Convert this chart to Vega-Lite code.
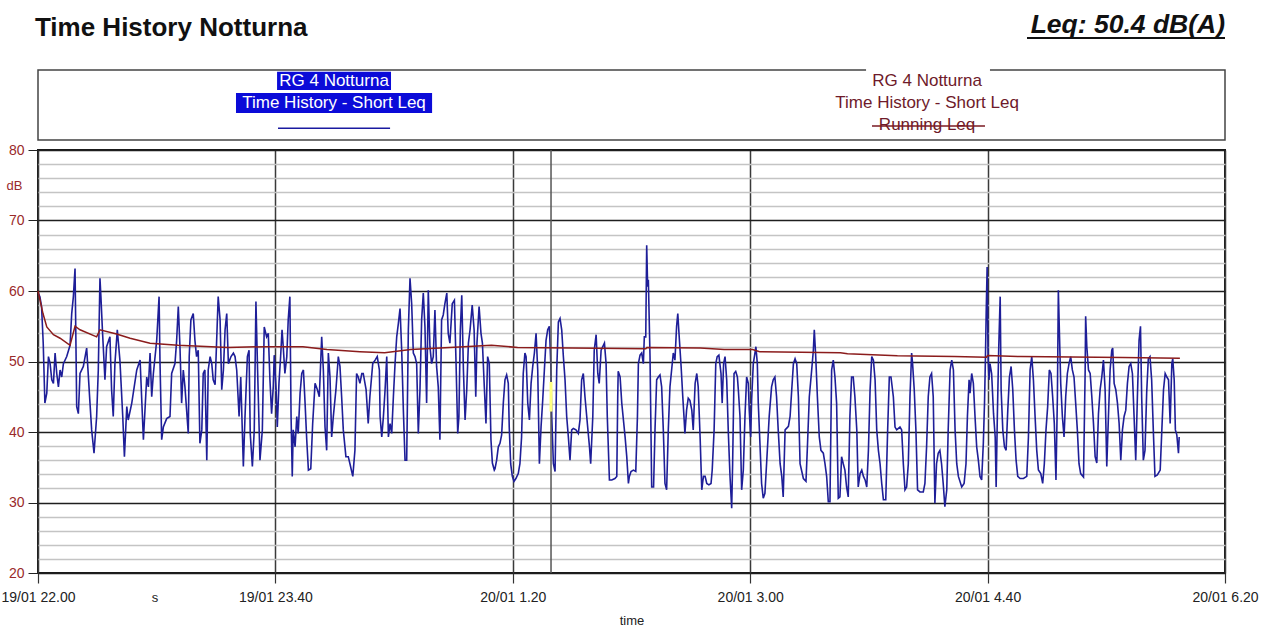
{
  "$schema": "https://vega.github.io/schema/vega-lite/v6.json",
  "width": 1187,
  "height": 423,
  "autosize": {"type": "none"},
  "padding": {"left": 38, "top": 150, "right": 47, "bottom": 58},
  "background": "white",
  "config": {
    "view": {"stroke": "#1a1a1a", "strokeWidth": 2},
    "font": "Liberation Sans"
  },
  "datasets": {
    "one": [{}],
    "short": [
      {"t":0.1,"v":59.7},{"t":0.8,"v":59.2},{"t":1.5,"v":57.8},{"t":2.2,"v":52.6},{"t":2.9,"v":44.1},{"t":3.7,"v":45.5},{"t":4.4,"v":50.7},{"t":5.1,"v":49.7},{"t":5.8,"v":47.4},{"t":6.5,"v":46.9},{"t":7.2,"v":51.2},{"t":7.9,"v":48.3},{"t":8.6,"v":46.4},{"t":9.3,"v":48.8},{"t":10.0,"v":47.8},{"t":10.7,"v":49.7},{"t":12.1,"v":50.7},{"t":13.5,"v":52.3},{"t":14.2,"v":56.8},{"t":14.9,"v":59.2},{"t":15.6,"v":63.2},{"t":16.3,"v":43.6},{"t":17.0,"v":42.6},{"t":17.7,"v":48.3},{"t":19.1,"v":49.3},{"t":20.5,"v":51.9},{"t":21.9,"v":44.1},{"t":22.6,"v":40.3},{"t":23.6,"v":37.0},{"t":24.7,"v":42.2},{"t":25.4,"v":48.8},{"t":26.1,"v":61.8},{"t":26.5,"v":59.2},{"t":27.2,"v":54.0},{"t":28.2,"v":47.4},{"t":28.9,"v":52.1},{"t":30.3,"v":53.5},{"t":31.0,"v":46.0},{"t":31.7,"v":42.2},{"t":32.4,"v":49.7},{"t":33.4,"v":54.5},{"t":34.5,"v":50.2},{"t":35.7,"v":42.2},{"t":36.4,"v":36.5},{"t":37.4,"v":43.6},{"t":38.0,"v":41.7},{"t":39.5,"v":44.1},{"t":41.6,"v":48.8},{"t":43.0,"v":50.2},{"t":44.4,"v":38.9},{"t":45.8,"v":47.8},
      {"t":46.5,"v":46.4},{"t":47.2,"v":51.2},{"t":47.9,"v":45.0},{"t":48.6,"v":48.3},{"t":50.0,"v":53.0},{"t":51.0,"v":59.2},{"t":51.4,"v":49.7},{"t":52.1,"v":38.9},{"t":52.8,"v":40.7},{"t":54.2,"v":41.9},{"t":55.6,"v":42.2},{"t":56.3,"v":48.3},{"t":57.7,"v":49.7},{"t":58.4,"v":53.0},{"t":59.1,"v":57.8},{"t":59.8,"v":52.1},{"t":60.5,"v":44.1},{"t":61.2,"v":48.8},{"t":61.9,"v":46.4},{"t":63.3,"v":39.8},{"t":63.7,"v":50.7},{"t":64.4,"v":55.9},{"t":65.4,"v":56.8},{"t":66.1,"v":53.0},{"t":66.8,"v":50.7},{"t":67.5,"v":51.6},{"t":68.2,"v":38.4},{"t":69.0,"v":40.3},{"t":69.6,"v":48.3},{"t":70.3,"v":48.8},{"t":71.1,"v":36.0},{"t":71.7,"v":48.8},{"t":72.5,"v":50.7},{"t":73.2,"v":49.7},{"t":73.8,"v":47.4},{"t":74.6,"v":46.7},{"t":75.9,"v":59.2},{"t":76.7,"v":55.9},{"t":77.4,"v":46.0},{"t":78.1,"v":48.8},{"t":78.8,"v":54.5},{"t":79.5,"v":56.8},{"t":80.2,"v":49.7},{"t":81.3,"v":50.7},{"t":82.3,"v":51.2},{"t":83.0,"v":50.7},{"t":83.7,"v":48.8},{"t":84.7,"v":42.2},{"t":85.4,"v":47.8},{"t":86.5,"v":35.1},{"t":87.2,"v":42.2},{"t":88.2,"v":50.7},{"t":88.9,"v":51.6},{"t":89.4,"v":39.8},{"t":90.3,"v":35.1},{"t":91.1,"v":40.3},{"t":91.8,"v":58.5},{"t":92.5,"v":48.8},{"t":93.5,"v":36.0},{"t":94.5,"v":40.3},{"t":95.3,"v":54.9},
      {"t":96.3,"v":53.5},{"t":97.0,"v":54.0},{"t":97.7,"v":47.4},{"t":98.4,"v":42.6},{"t":99.1,"v":46.4},{"t":99.5,"v":50.9},{"t":100.3,"v":46.0},{"t":100.8,"v":40.7},{"t":101.5,"v":46.9},{"t":102.2,"v":50.7},{"t":102.8,"v":54.5},{"t":103.3,"v":52.1},{"t":104.0,"v":48.3},{"t":104.8,"v":50.7},{"t":105.4,"v":55.9},{"t":106.1,"v":59.2},{"t":106.6,"v":42.2},{"t":107.1,"v":33.7},{"t":107.5,"v":40.3},{"t":108.3,"v":37.9},{"t":109.0,"v":42.2},{"t":109.6,"v":39.8},{"t":110.4,"v":45.5},{"t":111.1,"v":48.3},{"t":111.8,"v":48.8},{"t":112.5,"v":44.1},{"t":113.2,"v":38.9},{"t":113.9,"v":34.6},{"t":114.9,"v":34.8},{"t":115.7,"v":41.2},{"t":116.7,"v":46.9},{"t":117.7,"v":46.0},{"t":118.5,"v":45.0},{"t":119.5,"v":53.5},{"t":120.2,"v":48.8},{"t":120.9,"v":40.7},{"t":121.6,"v":37.4},{"t":122.3,"v":51.2},{"t":123.0,"v":47.8},{"t":123.7,"v":39.3},{"t":124.4,"v":42.2},{"t":125.5,"v":46.0},{"t":126.5,"v":50.7},{"t":127.2,"v":49.3},{"t":127.9,"v":45.0},{"t":128.6,"v":40.3},{"t":129.7,"v":36.5},{"t":130.7,"v":36.5},{"t":131.4,"v":35.5},{"t":132.6,"v":33.7},{"t":133.5,"v":37.4},{"t":134.2,"v":48.3},{"t":134.9,"v":47.8},{"t":135.6,"v":46.9},{"t":136.4,"v":48.3},{"t":137.0,"v":48.3},{"t":138.2,"v":46.0},{"t":139.1,"v":41.2},{"t":139.8,"v":45.0},{"t":141.0,"v":49.7},{"t":142.0,"v":50.2},{"t":142.9,"v":50.7},{"t":143.8,"v":48.8},
      {"t":144.1,"v":42.2},{"t":144.8,"v":39.3},{"t":145.5,"v":42.2},{"t":146.2,"v":46.0},{"t":146.9,"v":50.7},{"t":147.6,"v":39.3},{"t":148.3,"v":41.2},{"t":149.0,"v":39.8},{"t":149.7,"v":45.0},{"t":150.4,"v":49.7},{"t":151.1,"v":53.5},{"t":151.8,"v":55.4},{"t":152.5,"v":57.5},{"t":153.2,"v":51.6},{"t":153.9,"v":43.1},{"t":154.6,"v":36.0},{"t":155.3,"v":36.0},{"t":156.0,"v":54.5},{"t":156.7,"v":61.8},{"t":157.4,"v":58.2},{"t":158.1,"v":51.2},{"t":158.8,"v":50.7},{"t":159.5,"v":49.7},{"t":160.2,"v":39.8},{"t":160.9,"v":46.0},{"t":161.6,"v":55.9},{"t":162.3,"v":59.7},{"t":163.0,"v":54.9},{"t":163.7,"v":44.1},{"t":164.4,"v":60.1},{"t":165.1,"v":52.1},{"t":165.8,"v":49.7},{"t":166.5,"v":50.7},{"t":167.2,"v":57.3},{"t":167.9,"v":49.3},{"t":168.6,"v":46.4},{"t":169.3,"v":38.9},{"t":170.0,"v":55.9},{"t":170.7,"v":56.6},{"t":171.4,"v":58.2},{"t":172.2,"v":59.7},{"t":172.8,"v":54.0},{"t":173.5,"v":52.6},{"t":174.5,"v":58.2},{"t":175.4,"v":58.7},{"t":176.1,"v":49.7},{"t":176.8,"v":39.8},{"t":177.3,"v":42.2},{"t":177.9,"v":54.5},{"t":178.5,"v":59.4},{"t":179.2,"v":48.8},{"t":179.9,"v":41.7},{"t":180.6,"v":46.0},{"t":181.3,"v":52.6},{"t":182.0,"v":54.5},{"t":182.9,"v":58.0},{"t":183.7,"v":54.5},{"t":184.4,"v":45.0},{"t":184.9,"v":52.6},{"t":185.8,"v":57.8},{"t":186.6,"v":54.0},{"t":187.2,"v":52.6},{"t":188.0,"v":46.4},{"t":188.7,"v":41.2},{"t":189.4,"v":50.7},{"t":190.1,"v":49.7},{"t":190.8,"v":38.9},{"t":191.4,"v":35.6},{"t":192.2,"v":34.6},
      {"t":192.5,"v":34.8},{"t":193.2,"v":36.0},{"t":193.9,"v":37.9},{"t":194.6,"v":38.4},{"t":195.3,"v":39.6},{"t":196.0,"v":44.1},{"t":196.7,"v":47.4},{"t":197.4,"v":48.1},{"t":198.1,"v":46.9},{"t":198.5,"v":40.7},{"t":199.1,"v":35.5},{"t":199.8,"v":33.7},{"t":200.5,"v":33.0},{"t":201.3,"v":33.4},{"t":202.3,"v":34.1},{"t":203.0,"v":35.5},{"t":203.7,"v":39.3},{"t":204.4,"v":48.3},{"t":205.1,"v":51.2},{"t":205.6,"v":50.7},{"t":206.3,"v":44.1},{"t":207.0,"v":41.7},{"t":207.7,"v":46.9},{"t":208.4,"v":49.3},{"t":209.1,"v":51.2},{"t":209.8,"v":54.0},{"t":210.5,"v":48.8},{"t":211.2,"v":35.5},{"t":211.9,"v":40.7},{"t":212.6,"v":44.5},{"t":213.3,"v":48.8},{"t":214.0,"v":53.0},{"t":214.7,"v":54.5},{"t":215.4,"v":55.0},{"t":216.0,"v":49.7},{"t":216.4,"v":42.2},{"t":217.1,"v":35.5},{"t":217.8,"v":34.4},{"t":218.5,"v":48.8},{"t":219.2,"v":55.6},{"t":219.9,"v":56.1},{"t":220.6,"v":54.5},{"t":221.3,"v":50.7},{"t":222.0,"v":47.4},{"t":222.7,"v":42.2},{"t":223.4,"v":39.3},{"t":224.1,"v":36.0},{"t":224.8,"v":40.3},{"t":225.5,"v":40.5},{"t":226.6,"v":40.3},{"t":227.6,"v":39.8},{"t":228.3,"v":41.7},{"t":229.0,"v":47.4},{"t":229.7,"v":48.3},{"t":230.4,"v":45.0},{"t":231.4,"v":41.2},{"t":232.3,"v":37.9},{"t":232.8,"v":35.5},{"t":233.7,"v":42.2},{"t":234.3,"v":51.6},{"t":235.1,"v":53.8},{"t":235.8,"v":48.3},{"t":236.4,"v":46.9},{"t":237.2,"v":51.6},{"t":237.9,"v":52.1},{"t":238.6,"v":52.6},{"t":239.3,"v":49.7},{"t":239.8,"v":42.2},{"t":240.7,"v":33.2},
      {"t":241.7,"v":33.2},{"t":243.0,"v":33.4},{"t":243.8,"v":33.7},{"t":244.2,"v":45.0},{"t":244.4,"v":48.6},{"t":245.2,"v":47.8},{"t":245.9,"v":44.1},{"t":246.6,"v":41.7},{"t":247.3,"v":39.3},{"t":248.0,"v":36.5},{"t":248.7,"v":32.7},{"t":249.1,"v":33.7},{"t":249.8,"v":34.4},{"t":250.8,"v":34.6},{"t":251.8,"v":34.4},{"t":252.5,"v":42.2},{"t":252.9,"v":49.7},{"t":253.6,"v":50.9},{"t":254.3,"v":51.2},{"t":255.0,"v":49.7},{"t":255.4,"v":53.5},{"t":256.0,"v":53.5},{"t":256.4,"v":66.5},{"t":256.8,"v":60.6},{"t":257.1,"v":61.6},{"t":257.8,"v":50.7},{"t":258.5,"v":32.2},{"t":259.3,"v":32.2},{"t":259.9,"v":40.3},{"t":260.6,"v":47.4},{"t":261.3,"v":47.8},{"t":262.0,"v":48.1},{"t":262.7,"v":46.4},{"t":263.4,"v":40.3},{"t":264.1,"v":32.7},{"t":264.8,"v":31.8},{"t":265.5,"v":40.3},{"t":266.2,"v":46.4},{"t":266.9,"v":48.8},{"t":267.6,"v":51.2},{"t":268.3,"v":50.2},{"t":269.0,"v":55.0},{"t":269.5,"v":56.8},{"t":270.0,"v":54.0},{"t":270.9,"v":49.3},{"t":271.6,"v":45.0},{"t":272.1,"v":42.2},{"t":272.5,"v":39.8},{"t":273.2,"v":43.1},{"t":273.9,"v":44.8},{"t":274.6,"v":44.5},{"t":275.4,"v":43.1},{"t":276.0,"v":40.3},{"t":276.8,"v":46.9},{"t":277.5,"v":48.3},{"t":278.1,"v":46.4},{"t":278.9,"v":39.3},{"t":279.6,"v":31.8},{"t":280.3,"v":33.7},{"t":281.0,"v":33.7},{"t":281.7,"v":32.7},{"t":282.6,"v":32.5},{"t":283.5,"v":32.7},{"t":284.0,"v":34.6},{"t":284.8,"v":40.3},{"t":285.5,"v":49.7},{"t":286.1,"v":50.7},{"t":286.8,"v":50.9},{"t":287.7,"v":48.3},{"t":288.2,"v":44.1},{"t":288.8,"v":49.7},
      {"t":289.4,"v":50.7},{"t":290.1,"v":47.4},{"t":290.8,"v":39.8},{"t":291.5,"v":33.7},{"t":292.2,"v":29.2},{"t":292.6,"v":35.5},{"t":293.2,"v":48.3},{"t":293.9,"v":48.6},{"t":294.6,"v":47.8},{"t":295.0,"v":46.0},{"t":295.7,"v":42.2},{"t":296.4,"v":31.8},{"t":297.1,"v":34.6},{"t":297.8,"v":42.2},{"t":298.5,"v":47.8},{"t":299.2,"v":46.9},{"t":299.6,"v":43.1},{"t":300.2,"v":39.3},{"t":300.6,"v":44.5},{"t":301.3,"v":49.7},{"t":302.0,"v":51.2},{"t":302.4,"v":52.1},{"t":303.0,"v":49.7},{"t":303.4,"v":44.1},{"t":304.1,"v":38.4},{"t":304.8,"v":32.7},{"t":305.5,"v":30.6},{"t":306.2,"v":31.3},{"t":306.9,"v":35.5},{"t":308.0,"v":42.2},{"t":309.0,"v":46.4},{"t":309.7,"v":47.4},{"t":310.4,"v":47.8},{"t":311.1,"v":45.0},{"t":311.8,"v":40.3},{"t":312.6,"v":35.5},{"t":313.3,"v":33.7},{"t":313.9,"v":30.8},{"t":314.7,"v":40.3},{"t":316.1,"v":40.8},{"t":316.8,"v":42.2},{"t":317.5,"v":46.0},{"t":318.2,"v":49.7},{"t":318.9,"v":50.4},{"t":319.6,"v":49.7},{"t":320.3,"v":45.0},{"t":321.0,"v":35.5},{"t":322.4,"v":33.4},{"t":323.5,"v":33.0},{"t":324.1,"v":37.9},{"t":324.9,"v":45.0},{"t":325.9,"v":48.8},{"t":326.6,"v":51.6},{"t":327.0,"v":54.5},{"t":327.6,"v":50.7},{"t":328.3,"v":45.0},{"t":329.1,"v":39.3},{"t":329.8,"v":37.4},{"t":330.8,"v":37.0},{"t":331.5,"v":35.5},{"t":332.2,"v":33.7},{"t":332.9,"v":30.1},{"t":333.6,"v":30.1},{"t":334.3,"v":48.8},{"t":335.0,"v":50.2},{"t":335.7,"v":47.8},{"t":336.4,"v":44.1},
      {"t":337.1,"v":30.6},{"t":337.8,"v":30.8},{"t":338.5,"v":36.5},{"t":339.2,"v":35.5},{"t":339.9,"v":34.6},{"t":340.6,"v":32.2},{"t":341.3,"v":30.8},{"t":342.0,"v":42.2},{"t":342.7,"v":47.8},{"t":343.4,"v":47.8},{"t":344.1,"v":45.0},{"t":344.9,"v":40.3},{"t":345.5,"v":32.2},{"t":346.3,"v":34.1},{"t":347.0,"v":34.6},{"t":347.7,"v":33.7},{"t":348.4,"v":33.2},{"t":349.1,"v":32.2},{"t":349.8,"v":37.4},{"t":350.5,"v":46.0},{"t":351.2,"v":50.7},{"t":351.9,"v":50.2},{"t":352.6,"v":47.4},{"t":353.3,"v":40.3},{"t":354.0,"v":37.4},{"t":354.7,"v":35.5},{"t":355.4,"v":32.7},{"t":356.1,"v":30.4},{"t":357.1,"v":30.4},{"t":357.9,"v":40.3},{"t":358.6,"v":47.8},{"t":359.3,"v":47.8},{"t":360.3,"v":45.0},{"t":361.0,"v":40.7},{"t":361.7,"v":40.3},{"t":363.1,"v":40.7},{"t":363.8,"v":40.3},{"t":364.5,"v":35.5},{"t":365.2,"v":31.8},{"t":365.9,"v":32.2},{"t":366.6,"v":35.5},{"t":367.3,"v":45.0},{"t":368.0,"v":51.2},{"t":368.4,"v":49.7},{"t":369.1,"v":46.0},{"t":369.8,"v":40.3},{"t":370.5,"v":31.8},{"t":371.5,"v":31.5},{"t":372.9,"v":31.5},{"t":373.6,"v":32.7},{"t":374.3,"v":37.9},{"t":375.0,"v":45.0},{"t":375.7,"v":47.8},{"t":376.4,"v":48.3},{"t":377.1,"v":45.0},{"t":377.8,"v":29.9},{"t":378.5,"v":35.5},{"t":379.2,"v":37.0},{"t":379.9,"v":37.4},{"t":380.6,"v":35.5},{"t":381.3,"v":32.7},{"t":382.0,"v":29.4},{"t":382.8,"v":31.8},{"t":383.4,"v":40.3},{"t":384.2,"v":48.8},{"t":384.9,"v":50.2},{"t":385.6,"v":48.8},
      {"t":386.3,"v":40.3},{"t":387.0,"v":35.5},{"t":387.7,"v":33.7},{"t":389.1,"v":32.2},{"t":390.1,"v":32.7},{"t":390.9,"v":35.5},{"t":391.5,"v":42.2},{"t":392.2,"v":47.4},{"t":392.6,"v":45.5},{"t":393.3,"v":48.3},{"t":394.0,"v":46.9},{"t":394.7,"v":42.2},{"t":395.4,"v":37.9},{"t":396.1,"v":36.0},{"t":396.8,"v":33.7},{"t":397.5,"v":33.2},{"t":398.2,"v":38.4},{"t":398.7,"v":44.1},{"t":399.1,"v":50.7},{"t":399.4,"v":56.8},{"t":399.8,"v":63.4},{"t":400.2,"v":50.7},{"t":400.6,"v":47.4},{"t":401.0,"v":49.7},{"t":401.7,"v":48.3},{"t":402.5,"v":42.6},{"t":403.2,"v":39.3},{"t":403.6,"v":32.2},{"t":404.1,"v":42.2},{"t":404.7,"v":52.1},{"t":405.3,"v":59.2},{"t":405.7,"v":46.0},{"t":406.4,"v":40.3},{"t":407.1,"v":37.9},{"t":407.8,"v":37.4},{"t":408.5,"v":43.1},{"t":409.2,"v":47.8},{"t":409.9,"v":49.3},{"t":410.6,"v":46.0},{"t":411.3,"v":40.3},{"t":412.0,"v":36.0},{"t":412.7,"v":33.7},{"t":413.7,"v":33.4},{"t":415.1,"v":33.4},{"t":416.5,"v":33.7},{"t":417.2,"v":39.3},{"t":417.9,"v":48.8},{"t":418.6,"v":50.7},{"t":419.3,"v":47.4},{"t":420.0,"v":42.2},{"t":420.7,"v":37.4},{"t":421.4,"v":34.6},{"t":422.4,"v":34.1},{"t":423.2,"v":32.7},{"t":423.9,"v":35.5},{"t":424.6,"v":40.3},{"t":425.3,"v":43.6},{"t":426.0,"v":48.8},{"t":426.7,"v":48.3},{"t":427.4,"v":45.0},{"t":428.1,"v":41.2},{"t":428.8,"v":33.2},{"t":429.4,"v":45.0},{"t":429.8,"v":60.1},{"t":430.3,"v":53.5},{"t":430.8,"v":46.9},{"t":431.5,"v":42.2},{"t":432.2,"v":39.3},{"t":432.9,"v":45.0},{"t":433.6,"v":48.3},{"t":434.3,"v":49.7},{"t":435.0,"v":50.7},{"t":435.7,"v":48.8},{"t":436.4,"v":47.8},{"t":437.1,"v":44.1},{"t":437.8,"v":40.3},{"t":438.5,"v":35.5},{"t":439.2,"v":34.1},{"t":440.4,"v":33.6},{"t":441.1,"v":48.8},{"t":441.3,"v":56.4},{"t":441.8,"v":52.1},{"t":442.5,"v":48.8},{"t":443.2,"v":48.3},{"t":443.9,"v":45.0},{"t":444.6,"v":41.2},{"t":445.3,"v":36.5},{"t":446.0,"v":35.6},{"t":446.7,"v":42.6},{"t":447.4,"v":46.0},{"t":448.1,"v":47.8},{"t":448.8,"v":50.2},{"t":449.5,"v":46.0},{"t":450.2,"v":35.1},{"t":450.9,"v":42.2},{"t":451.6,"v":48.8},{"t":452.3,"v":51.6},{"t":452.7,"v":51.9},{"t":453.3,"v":46.9},{"t":454.0,"v":46.0},{"t":454.7,"v":44.1},{"t":455.4,"v":41.2},{"t":456.1,"v":36.0},{"t":456.8,"v":40.3},{"t":457.5,"v":42.2},{"t":458.2,"v":43.1},{"t":458.9,"v":46.9},{"t":459.6,"v":49.3},{"t":460.3,"v":49.7},{"t":461.0,"v":48.3},{"t":461.7,"v":42.2},{"t":462.4,"v":36.0},{"t":463.1,"v":45.0},{"t":463.8,"v":53.0},{"t":464.4,"v":55.0},{"t":464.9,"v":45.0},{"t":465.6,"v":36.0},{"t":466.3,"v":37.4},{"t":467.0,"v":45.5},{"t":467.7,"v":50.4},{"t":468.4,"v":50.7},{"t":469.1,"v":47.4},{"t":469.8,"v":40.3},{"t":470.5,"v":33.7},{"t":471.5,"v":33.9},{"t":472.7,"v":34.6},{"t":473.4,"v":40.3},{"t":474.1,"v":46.0},{"t":474.8,"v":48.3},{"t":475.5,"v":47.8},{"t":476.2,"v":47.4},{"t":476.9,"v":41.2},{"t":477.6,"v":49.7},{"t":478.0,"v":50.4},{"t":478.6,"v":47.4},{"t":479.1,"v":40.3},{"t":479.7,"v":39.6},{"t":480.4,"v":37.0},{"t":480.7,"v":39.3}
    ],
    "running": [
      {"t":0,"v":60},{"t":2.1,"v":56.8},{"t":3.7,"v":54.9},{"t":6.5,"v":53.8},{"t":9.3,"v":53.3},{"t":13.5,"v":52.3},{"t":15.6,"v":55.0},{"t":17.7,"v":54.5},{"t":24.7,"v":53.5},{"t":26.1,"v":54.5},{"t":33.1,"v":53.9},{"t":38.8,"v":53.3},{"t":47.2,"v":52.6},{"t":59,"v":52.3},{"t":80,"v":52.0},{"t":95.6,"v":52.1},{"t":111.6,"v":52.1},{"t":121.7,"v":51.7},{"t":135.6,"v":51.4},{"t":146,"v":51.25},{"t":157,"v":51.7},{"t":173.5,"v":52.0},{"t":191,"v":52.3},{"t":202,"v":52.0},{"t":225,"v":51.9},{"t":256,"v":51.8},{"t":256.5,"v":52.0},{"t":279,"v":51.9},{"t":289,"v":51.7},{"t":301,"v":51.7},{"t":304,"v":51.4},{"t":338,"v":51.25},{"t":341,"v":51.1},{"t":362,"v":50.8},{"t":386,"v":50.7},{"t":399.5,"v":50.6},{"t":400,"v":50.85},{"t":414,"v":50.7},{"t":457,"v":50.55},{"t":481,"v":50.45}
    ]
  },
  "layer": [
    {
      "data": {"name": "short"},
      "mark": {"type": "line", "color": "#1e1e98", "strokeWidth": 1.6, "clip": true},
      "encoding": {
        "x": {
          "field": "t", "type": "quantitative",
          "scale": {"domain": [0, 500], "nice": false, "zero": false},
          "axis": {
            "values": [0, 100, 200, 300, 400, 500],
            "tickCount": 40,
            "labelExpr": "timeFormat(datetime(2024, 0, 19, 22, datum.value), '%d/%m %-H.%M')",
            "grid": true, "gridColor": "#3a3a3a", "gridWidth": 1.5,
            "domain": false,
            "tickSize": 10, "tickColor": "#333", "tickWidth": 1.2,
            "labelFontSize": 14, "labelColor": "#222", "labelPadding": 7,
            "labelFlush": false, "labelOverlap": false,
            "title": "time", "titleFontSize": 13, "titleFontWeight": "normal", "titleColor": "#222",
            "titleY": 47, "titleBaseline": "middle"
          }
        },
        "y": {
          "field": "v", "type": "quantitative",
          "scale": {"domain": [20, 80], "nice": false, "zero": false},
          "axis": {
            "values": [20,22,24,26,28,30,32,34,36,38,40,42,44,46,48,50,52,54,56,58,60,62,64,66,68,70,72,74,76,78,80],
            "tickCount": 40,
            "labelExpr": "datum.value % 10 === 0 ? datum.label : ''",
            "labelOverlap": false,
            "grid": true,
            "gridColor": {"condition": {"test": "datum.value % 10 === 0", "value": "#1e1e1e"}, "value": "#c4c4c4"},
            "gridWidth": {"condition": {"test": "datum.value % 10 === 0", "value": 1.3}, "value": 1.6},
            "tickSize": {"condition": {"test": "datum.value % 10 === 0", "value": 10}, "value": 0},
            "tickColor": "#222",
            "domain": false,
            "labelFontSize": 14, "labelColor": "#9a2a2a", "labelPadding": 4,
            "title": "dB", "titleAngle": 0, "titleX": -24, "titleY": 35,
            "titleAlign": "center", "titleBaseline": "middle",
            "titleFontSize": 13, "titleFontWeight": "normal", "titleColor": "#9a2a2a"
          }
        }
      }
    },
    {
      "data": {"name": "one"},
      "mark": {"type": "rule", "color": "#555", "strokeWidth": 1.5},
      "encoding": {
        "x": {"datum": 216.1, "type": "quantitative"}
      }
    },
    {
      "data": {"name": "running"},
      "mark": {"type": "line", "color": "#8b1c1c", "strokeWidth": 1.5},
      "encoding": {
        "x": {"field": "t", "type": "quantitative"},
        "y": {"field": "v", "type": "quantitative"}
      }
    },
    {
      "data": {"name": "one"},
      "mark": {"type": "rule", "color": "#ffff80", "strokeWidth": 3},
      "encoding": {
        "x": {"datum": 216.1, "type": "quantitative"},
        "y": {"datum": 42.9, "type": "quantitative"},
        "y2": {"datum": 47.1}
      }
    },
    {
      "data": {"name": "one"},
      "mark": {"type": "rect", "fill": "white", "stroke": "#444", "strokeWidth": 1.5},
      "encoding": {
        "x": {"datum": 0, "type": "quantitative"},
        "x2": {"datum": 500},
        "y": {"datum": 91.35, "type": "quantitative"},
        "y2": {"datum": 81.42}
      }
    },
    {
      "data": {"name": "one"},
      "mark": {"type": "rect", "fill": "white"},
      "encoding": {
        "x": {"datum": 348.8, "type": "quantitative"},
        "x2": {"datum": 401},
        "y": {"datum": 91.8, "type": "quantitative"},
        "y2": {"datum": 88.6}
      }
    },
    {
      "data": {"name": "one"},
      "mark": {"type": "rect", "fill": "#0b0bd8"},
      "encoding": {
        "x": {"datum": 100.7, "type": "quantitative"},
        "x2": {"datum": 148.7},
        "y": {"datum": 91.1, "type": "quantitative"},
        "y2": {"datum": 88.5}
      }
    },
    {
      "data": {"name": "one"},
      "mark": {"type": "rect", "fill": "#0b0bd8"},
      "encoding": {
        "x": {"datum": 83.4, "type": "quantitative"},
        "x2": {"datum": 166},
        "y": {"datum": 88.1, "type": "quantitative"},
        "y2": {"datum": 85.25}
      }
    },
    {
      "data": {"name": "one"},
      "mark": {"type": "text", "text": "RG 4 Notturna", "fontSize": 17, "color": "white", "align": "center", "baseline": "middle"},
      "encoding": {
        "x": {"datum": 124.7, "type": "quantitative"},
        "y": {"datum": 89.8, "type": "quantitative"}
      }
    },
    {
      "data": {"name": "one"},
      "mark": {"type": "text", "text": "Time History - Short Leq", "fontSize": 17, "color": "white", "align": "center", "baseline": "middle"},
      "encoding": {
        "x": {"datum": 124.7, "type": "quantitative"},
        "y": {"datum": 86.67, "type": "quantitative"}
      }
    },
    {
      "data": {"name": "one"},
      "mark": {"type": "rule", "color": "#1a1aa0", "strokeWidth": 1.5},
      "encoding": {
        "x": {"datum": 101.1, "type": "quantitative"},
        "x2": {"datum": 148.3},
        "y": {"datum": 83.1, "type": "quantitative"}
      }
    },
    {
      "data": {"name": "one"},
      "mark": {"type": "text", "text": "RG 4 Notturna", "fontSize": 17, "color": "#6e1a2a", "align": "center", "baseline": "middle"},
      "encoding": {
        "x": {"datum": 374.5, "type": "quantitative"},
        "y": {"datum": 89.8, "type": "quantitative"}
      }
    },
    {
      "data": {"name": "one"},
      "mark": {"type": "text", "text": "Time History - Short Leq", "fontSize": 17, "color": "#6e1a2a", "align": "center", "baseline": "middle"},
      "encoding": {
        "x": {"datum": 374.5, "type": "quantitative"},
        "y": {"datum": 86.67, "type": "quantitative"}
      }
    },
    {
      "data": {"name": "one"},
      "mark": {"type": "text", "text": "Running Leq", "fontSize": 17, "color": "#6e1a2a", "align": "center", "baseline": "middle"},
      "encoding": {
        "x": {"datum": 374.5, "type": "quantitative"},
        "y": {"datum": 83.6, "type": "quantitative"}
      }
    },
    {
      "data": {"name": "one"},
      "mark": {"type": "rule", "color": "#7a1a22", "strokeWidth": 1.5},
      "encoding": {
        "x": {"datum": 351.3, "type": "quantitative"},
        "x2": {"datum": 398.9},
        "y": {"datum": 83.4, "type": "quantitative"}
      }
    },
    {
      "data": {"name": "one"},
      "mark": {"type": "text", "text": "Time History Notturna", "fontSize": 26, "fontWeight": "bold", "color": "#111", "align": "left", "baseline": "middle"},
      "encoding": {
        "x": {"datum": -1.3, "type": "quantitative"},
        "y": {"datum": 97.3, "type": "quantitative"}
      }
    },
    {
      "data": {"name": "one"},
      "mark": {"type": "text", "text": "Leq: 50.4 dB(A)", "fontSize": 26.5, "fontWeight": "bold", "fontStyle": "italic", "color": "#111", "align": "right", "baseline": "middle"},
      "encoding": {
        "x": {"datum": 500, "type": "quantitative"},
        "y": {"datum": 97.7, "type": "quantitative"}
      }
    },
    {
      "data": {"name": "one"},
      "mark": {"type": "rule", "color": "#111", "strokeWidth": 2},
      "encoding": {
        "x": {"datum": 416.6, "type": "quantitative"},
        "x2": {"datum": 500},
        "y": {"datum": 95.9, "type": "quantitative"}
      }
    },
    {
      "data": {"name": "one"},
      "mark": {"type": "text", "text": "s", "fontSize": 13, "color": "#222", "align": "center", "baseline": "middle"},
      "encoding": {
        "x": {"datum": 49.3, "type": "quantitative"},
        "y": {"datum": 16.45, "type": "quantitative"}
      }
    }
  ]
}
